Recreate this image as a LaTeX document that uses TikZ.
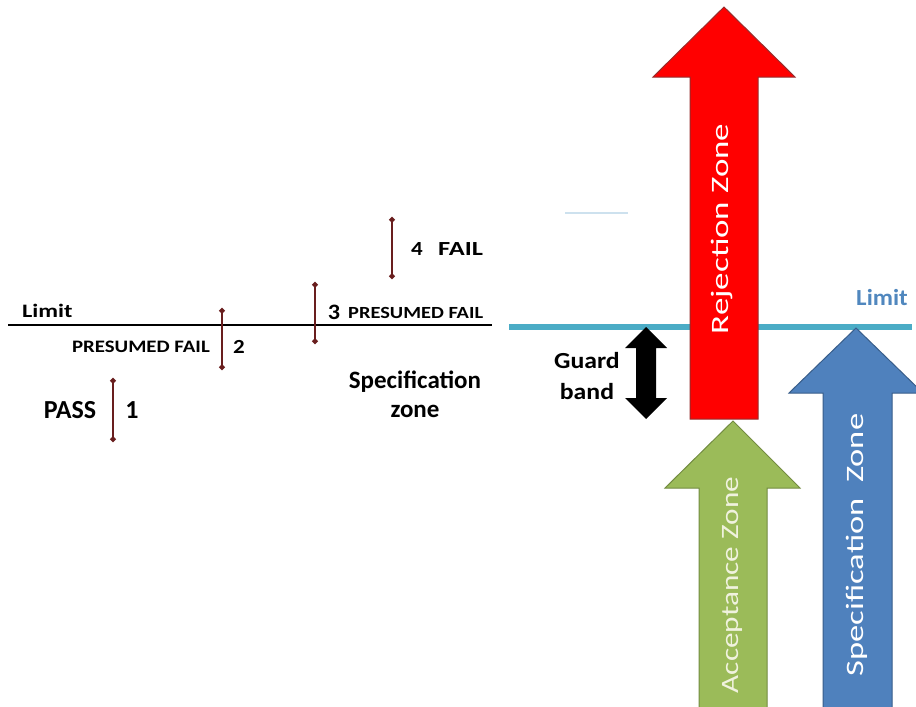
\documentclass[tikz,border=0pt]{standalone}
\usepackage{fontspec}
\setmainfont{Carlito}
\usetikzlibrary{arrows.meta}
\definecolor{redfill}{RGB}{255,0,0}
\definecolor{redline}{RGB}{150,45,45}
\definecolor{greenfill}{RGB}{155,187,89}
\definecolor{greenline}{RGB}{115,140,65}
\definecolor{bluefill}{RGB}{79,129,189}
\definecolor{blueline}{RGB}{56,93,138}
\definecolor{cyanline}{RGB}{75,172,198}
\definecolor{limitblue}{RGB}{80,135,190}
\definecolor{barred}{RGB}{105,30,30}
\definecolor{creamtext}{RGB}{240,242,222}
\definecolor{faintline}{RGB}{205,225,238}
\newcommand{\fs}[1]{\fontsize{#1}{#1}\selectfont}
\tikzset{
  zonetext/.style={rotate=90, anchor=base, inner sep=0pt, font=\fs{25}},
  lbl/.style={anchor=base, inner sep=0pt, font=\bfseries},
  bar/.style={draw=barred, line width=2.2pt, {Circle[length=5.5pt]}-{Circle[length=5.5pt]}},
}
\begin{document}
\begin{tikzpicture}[x=1pt,y=-1pt]
\useasboundingbox (0,0) rectangle (916,707);
\fill[white] (0,0) rectangle (916,707);
\begin{scope}
\clip (0,0) rectangle (916,707);
% faint line
\draw[faintline, line width=1.5pt] (565,213) -- (628,213);
% cyan limit line
\draw[cyanline, line width=6pt] (509,327) -- (912,327);
\node[lbl, text=limitblue, font=\bfseries\fs{23}] (limR) at (882,305) {\scalebox{1.08}[1]{Limit}};
% red arrow
\draw[fill=redfill, draw=redline, line width=1pt] (724,7) -- (795,77) -- (758,77) -- (758,419) -- (690,419) -- (690,77) -- (653,77) -- cycle;
\node[zonetext, text=white] (rej) at (728,229) {\scalebox{1.4}[1]{Rejection Zone}};
% green arrow
\draw[fill=greenfill, draw=greenline, line width=1pt] (733,421) -- (800,488) -- (767,488) -- (767,712) -- (699,712) -- (699,488) -- (665,488) -- cycle;
\node[zonetext, text=creamtext] (acc) at (738,585) {\scalebox{1.25}[1]{Acceptance Zone}};
% blue arrow
\draw[fill=bluefill, draw=blueline, line width=1pt] (856,328) -- (923,393) -- (892,393) -- (892,712) -- (823,712) -- (823,393) -- (789,393) -- cycle;
\node[zonetext, text=white] (spec) at (863,545) {\scalebox{1.38}[1]{Specification\ \ Zone}};
% guard band
\fill[black] (646,327) -- (667,348) -- (656,348) -- (656,398) -- (667,398) -- (646,419) -- (625,398) -- (636,398) -- (636,348) -- (625,348) -- cycle;
\node[lbl, font=\bfseries\fs{23}] (guard1) at (587,368) {\scalebox{1.12}[1]{Guard}};
\node[lbl, font=\bfseries\fs{23}] (guard2) at (587,399) {\scalebox{1.12}[1]{band}};
\end{scope}
% left part
\draw[black, line width=2pt] (8,325) -- (492,325);
\node[lbl, anchor=base west, font=\bfseries\fs{19}] (limL) at (22,317) {\scalebox{1.28}[1]{Limit}};
\coordinate (b1t) at (113,378); \coordinate (b1b) at (113,442);
\coordinate (b2t) at (222,308); \coordinate (b2b) at (222,370);
\coordinate (b3t) at (315,282); \coordinate (b3b) at (315,344);
\coordinate (b4t) at (392,217); \coordinate (b4b) at (392,279);
\draw[bar] (b1t) -- (b1b);
\draw[bar] (b2t) -- (b2b);
\draw[bar] (b3t) -- (b3b);
\draw[bar] (b4t) -- (b4b);
\node[lbl, font=\bfseries\fs{26}] (pass) at (70,418) {PASS};
\node[lbl, font=\bfseries\fs{26}] (n1) at (132,418) {1};
\node[lbl, anchor=base east, font=\bfseries\fs{17.5}] (pf2) at (210,352) {\scalebox{1.19}[1]{PRESUMED FAIL}};
\node[lbl, font=\bfseries\fs{20}] (n2) at (239,353) {\scalebox{1.15}[1]{2}};
\node[lbl, font=\bfseries\fs{22}] (n3) at (334,319) {\scalebox{1.1}[1]{3}};
\node[lbl, anchor=base west, font=\bfseries\fs{17}] (pf3) at (348,318) {\scalebox{1.2}[1]{PRESUMED FAIL}};
\node[lbl, font=\bfseries\fs{20}] (n4) at (417,255) {\scalebox{1.15}[1]{4}};
\node[lbl, anchor=base west, font=\bfseries\fs{20}] (fail) at (438,255) {\scalebox{1.32}[1]{FAIL}};
\node[lbl, font=\bfseries\fs{25}] (szone1) at (415,388) {Specification};
\node[lbl, font=\bfseries\fs{25}] (szone2) at (415,417) {zone};
\end{tikzpicture}
\end{document}
